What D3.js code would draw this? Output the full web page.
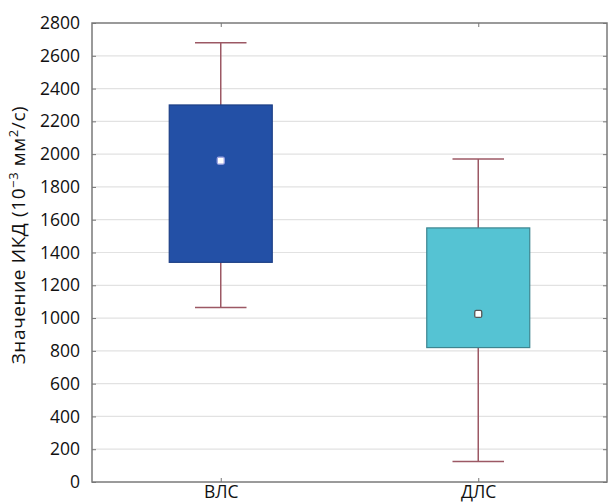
<!DOCTYPE html>
<html>
<head>
<meta charset="utf-8">
<script src="https://cdn.jsdelivr.net/npm/d3@7"></script>
<style>
  body { margin: 0; background: #fff; }
  text { font-family: "Open Sans", sans-serif; fill: #111; }
</style>
</head>
<body>
<svg id="chart" width="609" height="504"></svg>
<script>
// groups and box stats (10^-3 mm2/s)
var groups = ["ВЛС", "ДЛС"];
var whiskerLow = [1065, 125];
var q1 = [1340, 820];
var median = [1960, 1025];
var q3 = [2300, 1550];
var whiskerHigh = [2680, 1970];
var boxFill = ["#2350a6", "#55c3d3"];
var boxStroke = ["#1d3f86", "#3d8590"];
var yTicks = d3.range(0, 2801, 200);

var svg = d3.select("#chart");
var margin = {top: 23, right: 2, bottom: 22, left: 92},
    width = +svg.attr("width") - margin.left - margin.right,
    height = +svg.attr("height") - margin.top - margin.bottom;

var g = svg.append("g")
    .attr("transform", "translate(" + margin.left + "," + margin.top + ")");

var x = d3.scalePoint().domain(groups).range([0, width]).padding(0.5);
var bw = width * 0.2;
var y = d3.scaleLinear().domain([0, 2800]).range([height, 0]);

var data = groups.map(function(d, i) {
    return {name: d, lo: whiskerLow[i], q1: q1[i], med: median[i], q3: q3[i], hi: whiskerHigh[i],
            fill: boxFill[i], stroke: boxStroke[i]};
});

// grid
g.selectAll(".grid")
    .data(yTicks.slice(1, -1))
    .enter().append("line")
    .attr("x1", 0).attr("x2", width)
    .attr("y1", function(d) { return y(d); })
    .attr("y2", function(d) { return y(d); })
    .attr("stroke", "#e2e2e2")
    .attr("stroke-width", 1.2);

// whiskers
var wcol = "#9c5864";
var box = g.selectAll(".box").data(data).enter().append("g");
box.append("line")
    .attr("x1", function(d) { return x(d.name); })
    .attr("x2", function(d) { return x(d.name); })
    .attr("y1", function(d) { return y(d.lo); })
    .attr("y2", function(d) { return y(d.hi); })
    .attr("stroke", wcol).attr("stroke-width", 1.5);
box.selectAll(".cap")
    .data(function(d) { return [d.lo, d.hi].map(function(v) { return {name: d.name, v: v}; }); })
    .enter().append("line")
    .attr("x1", function(d) { return x(d.name) - bw / 4; })
    .attr("x2", function(d) { return x(d.name) + bw / 4; })
    .attr("y1", function(d) { return y(d.v); })
    .attr("y2", function(d) { return y(d.v); })
    .attr("stroke", wcol).attr("stroke-width", 1.5);

// boxes
box.append("rect")
    .attr("x", function(d) { return x(d.name) - bw / 2; })
    .attr("width", bw)
    .attr("y", function(d) { return y(d.q3); })
    .attr("height", function(d) { return y(d.q1) - y(d.q3); })
    .attr("fill", function(d) { return d.fill; })
    .attr("stroke", function(d) { return d.stroke; })
    .attr("stroke-width", 1.2);

// median markers
box.append("rect")
    .attr("x", function(d) { return x(d.name) - 3.5; })
    .attr("y", function(d) { return y(d.med) - 3.5; })
    .attr("width", 7).attr("height", 7)
    .attr("rx", 1.5)
    .attr("fill", "#fff")
    .attr("stroke", function(d, i) { return i === 0 ? "#9aa0e0" : "#555"; })
    .attr("stroke-width", 1.3);

// frame
g.append("rect")
    .attr("width", width).attr("height", height)
    .attr("fill", "none").attr("stroke", "#7a7a7a").attr("stroke-width", 1.5);

// y axis
var yAxis = g.append("g")
    .call(d3.axisLeft(y).tickValues(yTicks).tickFormat(d3.format("d")).tickSize(-4).tickPadding(12));
yAxis.select(".domain").remove();
yAxis.selectAll(".tick line").attr("stroke", "#777");
yAxis.selectAll("text").style("font-size", "17.5px").attr("fill", "#111");

var yAxisR = g.append("g")
    .attr("transform", "translate(" + width + ",0)")
    .call(d3.axisRight(y).tickValues(yTicks).tickSize(-4).tickFormat(""));
yAxisR.select(".domain").remove();
yAxisR.selectAll(".tick line").attr("stroke", "#777");

// x axis
var xAxis = g.append("g")
    .attr("transform", "translate(0," + height + ")")
    .call(d3.axisBottom(x).tickSize(-4).tickPadding(4));
xAxis.select(".domain").remove();
xAxis.selectAll(".tick line").attr("stroke", "#777");
xAxis.selectAll("text").style("font-size", "17.5px").attr("fill", "#111");

var xAxisT = g.append("g")
    .call(d3.axisTop(x).tickSize(-4).tickFormat(""));
xAxisT.select(".domain").remove();
xAxisT.selectAll(".tick line").attr("stroke", "#777");

// y label
var lab = svg.append("text")
    .attr("transform", "translate(25,235) rotate(-90)")
    .attr("text-anchor", "middle")
    .style("font-size", "19px")
    .style("letter-spacing", "0.6px");
lab.append("tspan").text("Значение ИКД (10");
lab.append("tspan").attr("dy", -7).style("font-size", "13px").text("−3");
lab.append("tspan").attr("dy", 7).text(" мм");
lab.append("tspan").attr("dy", -7).style("font-size", "13px").text("2");
lab.append("tspan").attr("dy", 7).text("/с)");
</script>
</body>
</html>
